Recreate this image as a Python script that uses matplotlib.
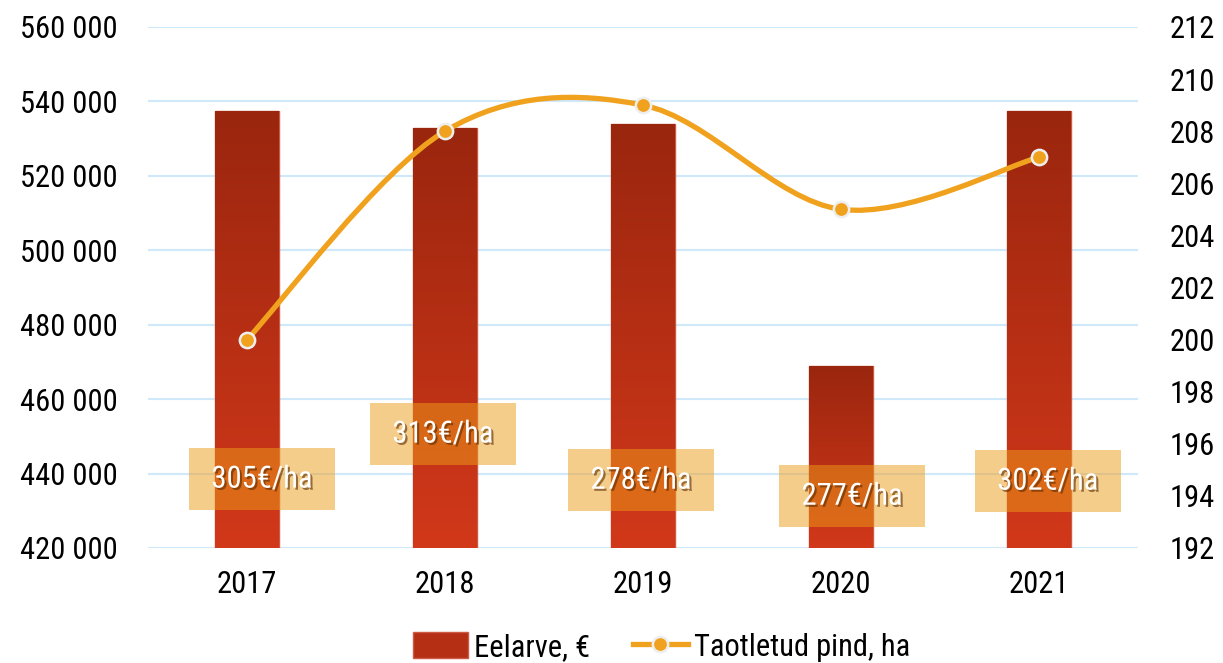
import numpy as np
import matplotlib
matplotlib.use("Agg")
import matplotlib.pyplot as plt
from matplotlib import font_manager
from matplotlib.path import Path
from matplotlib.patches import PathPatch, Rectangle, Patch
from matplotlib.lines import Line2D
import matplotlib.patheffects as pe

# data
years = ["2017", "2018", "2019", "2020", "2021"]
budget = [537400, 532900, 534000, 468900, 537400]      # Eelarve, €
area = [200, 208, 209, 205, 207]                        # Taotletud pind, ha
per_ha = ["305€/ha", "313€/ha", "278€/ha", "277€/ha", "302€/ha"]

# label box placement (x offset from bar centre, y centre on left axis)
lab_dx = [0.076, -0.01, -0.01, 0.056, 0.045]
lab_y = [438500, 450600, 438200, 433900, 437950]

# pick a narrow-ish font if we have one
names = {f.name for f in font_manager.fontManager.ttflist}
font = "Roboto"
for cand in ["Roboto Condensed", "Liberation Sans Narrow", "Roboto"]:
    if cand in names:
        font = cand
        break
plt.rcParams['font.family'] = [font, 'DejaVu Sans']

orange = '#f0a21e'
grid_c = '#cfe9fb'

fig = plt.figure(figsize=(12.23, 6.63), dpi=100)
ax = fig.add_axes([0.121, 0.1735, 0.8095, 0.7858])
ax2 = ax.twinx()

x = np.arange(len(years))
bars = ax.bar(x, budget, width=0.32, color='#b52f14', edgecolor='#cc5a45',
              linewidth=1, zorder=2)

# vertical gradient inside each bar
grad = np.linspace(0, 1, 256).reshape(-1, 1)
cmap = matplotlib.colors.LinearSegmentedColormap.from_list('g', ['#9a260e', '#d2381a'])
for b in bars:
    x0, y0 = b.get_x(), b.get_y()
    w, h = b.get_width(), b.get_height()
    im = ax.imshow(grad, cmap=cmap, aspect='auto', origin='upper',
                   extent=[x0, x0 + w, 420000, y0 + h], zorder=2.1)
    im.set_clip_path(b)

ax.set_ylim(420000, 560000)
ax.set_xlim(-0.5, len(years) - 0.5)
ax.set_yticks(np.arange(420000, 560001, 20000))
ax.set_yticklabels([f"{v:,}".replace(",", " ") for v in range(420000, 560001, 20000)])
ax.set_xticks(x)
ax.set_xticklabels(years)
ax.yaxis.grid(True, color=grid_c, linewidth=1.5)
ax.set_axisbelow(True)
ax.tick_params(axis='y', length=0, pad=22, labelsize=22)
ax.tick_params(axis='x', length=0, pad=16, labelsize=22)
for s in ax.spines.values():
    s.set_visible(False)

# label boxes
box_w = 0.74
box_h = 16700
for i, txt in enumerate(per_ha):
    cx = x[i] + lab_dx[i]
    ax.add_patch(Rectangle((cx - box_w / 2, lab_y[i] - box_h / 2), box_w, box_h,
                           facecolor='#ed9d19', alpha=0.5, edgecolor='none', zorder=3))
    t = ax.text(cx, lab_y[i], txt, ha='center', va='center', color='white',
                fontsize=22, zorder=4)
    t.set_path_effects([pe.withSimplePatchShadow(offset=(1.5, -1.5), shadow_rgbFace='#5a2a00', alpha=0.6)])

# smoothed line (Catmull-Rom style bezier through the points)
pts = np.column_stack([x, area]).astype(float)
verts = [tuple(pts[0])]
codes = [Path.MOVETO]
n = len(pts)
for i in range(n - 1):
    p0 = pts[max(i - 1, 0)]
    p1 = pts[i]
    p2 = pts[i + 1]
    p3 = pts[min(i + 2, n - 1)]
    c1 = p1 + (p2 - p0) / 6
    c2 = p2 - (p3 - p1) / 6
    verts += [tuple(c1), tuple(c2), tuple(p2)]
    codes += [Path.CURVE4] * 3
ax2.add_patch(PathPatch(Path(verts, codes), fill=False, edgecolor=orange,
                        linewidth=3.8, capstyle='round', zorder=5))
ax2.plot(x, area, linestyle='none', marker='o', markersize=11,
         markerfacecolor=orange, markeredgecolor='#eeeeee', markeredgewidth=1.8, zorder=6)

ax2.set_ylim(192, 212)
ax2.set_yticks(np.arange(192, 213, 2))
ax2.tick_params(axis='y', length=0, pad=23, labelsize=22)
for s in ax2.spines.values():
    s.set_visible(False)

handles = [Patch(facecolor='#b52f14', edgecolor='#cc5a45'),
           Line2D([0], [0], color=orange, linewidth=3.8, marker='o', markersize=11,
                  markerfacecolor=orange, markeredgecolor='#eeeeee', markeredgewidth=1.8)]
fig.legend(handles, ["Eelarve, €", "Taotletud pind, ha"], loc='center',
           bbox_to_anchor=(0.541, 0.024), ncol=2, frameon=False, fontsize=22,
           handlelength=1.8, handleheight=0.9, handletextpad=0.2, columnspacing=1.4)

fig.savefig("out.png", dpi=100)
